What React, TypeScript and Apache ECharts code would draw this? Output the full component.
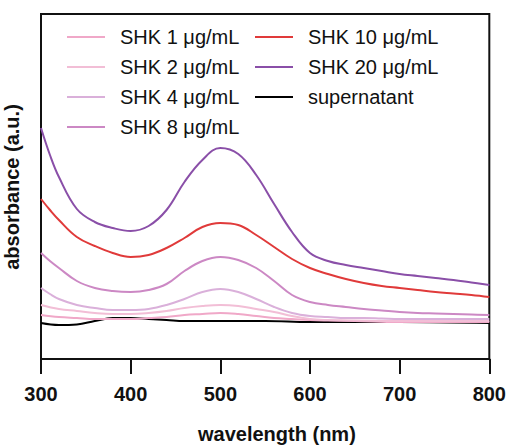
import React, { useEffect, useRef } from "react";
import * as echarts from "echarts";

const xTicks = [300, 400, 500, 600, 700, 800];

const gridWl = [300, 310, 320, 340, 360, 380, 400, 420, 440, 460, 480, 500, 520, 540, 560, 580, 600, 620, 640, 660, 680, 700, 720, 740, 760, 780, 800];

const shk20Abs = [231, 204, 182, 150, 137, 131, 128, 133, 149, 177, 199, 211, 205, 184, 155, 127, 106, 98, 94, 91, 88, 85, 83, 81, 79, 76.5, 74];
const shk10Abs = [160, 149, 139, 122, 113, 106, 102, 104, 111, 121, 132, 136, 134, 124, 112, 100, 91, 85, 80, 76, 73, 71, 69, 67, 65.5, 64, 62];
const shk8Abs = [106, 98, 91, 78, 71, 68, 67, 69, 75, 88, 98, 102, 99, 91, 78, 64, 57, 54, 52, 50, 48.5, 47, 46, 45.5, 45, 44.5, 44];
const shk4Abs = [71, 65, 60, 54, 51, 49, 49, 50, 54, 60, 67, 70, 67, 60, 52, 46, 43, 42, 41, 41, 40.5, 40, 40, 40, 40, 40, 40];

const lowWl = [300, 320, 340, 360, 380, 400, 420, 440, 460, 480, 500, 520, 540, 560, 580, 600, 620, 650, 700, 800];
const shk2Abs = [54, 50, 48, 46, 45, 45, 46, 48, 51, 53, 54, 53, 50, 47, 43, 40, 39, 38.5, 38, 38];
const shk1Abs = [44, 42, 41, 40, 40, 40, 41, 42, 44, 45, 46, 45, 43, 41, 40, 39, 38.5, 38, 37, 37];

const superWl = [300, 320, 340, 360, 380, 400, 420, 440, 460, 480, 500, 550, 600, 700, 800];
const superAbs = [36, 34, 34.5, 38, 41, 41, 40, 39, 38, 38, 38, 38, 37, 37, 36];

const names = ["SHK 1 μg/mL", "SHK 2 μg/mL", "SHK 4 μg/mL", "SHK 8 μg/mL", "SHK 10 μg/mL", "SHK 20 μg/mL", "supernatant"];
const colors = ["#f0a8c8", "#f2bed6", "#dab0da", "#cc88c4", "#e03a3a", "#8a4fa8", "#000000"];

const FONT = "'Liberation Sans', Arial, Helvetica, sans-serif";

function zip(wl: number[], v: number[]) {
  return wl.map((w, i) => [w, v[i]]);
}

export default function App() {
  const ref = useRef<HTMLDivElement>(null);
  useEffect(() => {
    if (!ref.current) return;
    const chart = echarts.init(ref.current, undefined, { renderer: "svg" });
    const datasets = [
      zip(lowWl, shk1Abs),
      zip(lowWl, shk2Abs),
      zip(gridWl, shk4Abs),
      zip(gridWl, shk8Abs),
      zip(gridWl, shk10Abs),
      zip(gridWl, shk20Abs),
      zip(superWl, superAbs),
    ];
    const order = [6, 0, 1, 2, 3, 4, 5];
    const series = order.map((i) => ({
      name: names[i],
      type: "line",
      data: datasets[i],
      smooth: 0.4,
      showSymbol: false,
      symbol: "none",
      color: colors[i],
      lineStyle: { color: colors[i], width: 2 },
      z: 2,
    }));
    const legendCommon = {
      orient: "vertical",
      icon: "rect",
      itemWidth: 38,
      itemHeight: 2,
      itemGap: 10,
      textStyle: {
        fontFamily: FONT,
        fontSize: 20,
        lineHeight: 20,
        color: "#111",
        padding: [0, 0, 0, 10],
      },
    };
    chart.setOption({
      animation: false,
      backgroundColor: "#fff",
      grid: {
        left: 41,
        right: 19,
        top: 14,
        bottom: 87,
        show: true,
        borderColor: "#111",
        borderWidth: 2,
        backgroundColor: "transparent",
      },
      legend: [
        { ...legendCommon, left: 62, top: 22, data: names.slice(0, 4) },
        { ...legendCommon, left: 250, top: 22, data: names.slice(4) },
      ],
      xAxis: {
        type: "value",
        min: 300,
        max: 800,
        interval: 100,
        axisLine: { show: true, lineStyle: { color: "#111", width: 2 } },
        axisTick: { show: true, inside: false, length: 15, lineStyle: { color: "#111", width: 2 } },
        axisLabel: {
          fontFamily: FONT,
          fontSize: 20,
          fontWeight: "bold",
          color: "#111",
          margin: 25,
          formatter: (v: number) => (xTicks.includes(v) ? String(v) : ""),
        },
        splitLine: { show: false },
      },
      yAxis: {
        type: "value",
        min: 0,
        max: 345,
        axisLine: { show: true, lineStyle: { color: "#111", width: 2 } },
        axisTick: { show: false },
        axisLabel: { show: false },
        splitLine: { show: false },
      },
      graphic: [
        {
          type: "text",
          left: 280 - 82,
          top: 424,
          style: {
            text: "wavelength (nm)",
            font: `bold 20px ${FONT}`,
            fill: "#111",
          },
        },
        {
          type: "text",
          x: 12,
          y: 187,
          rotation: Math.PI / 2,
          style: {
            text: "absorbance (a.u.)",
            font: `bold 20px ${FONT}`,
            fill: "#111",
            align: "center",
            verticalAlign: "middle",
          },
        },
      ],
      series,
    });
    return () => chart.dispose();
  }, []);
  return (
    <div
      ref={ref}
      style={{ position: "absolute", left: 0, top: 0, width: 509, height: 446 }}
    />
  );
}
